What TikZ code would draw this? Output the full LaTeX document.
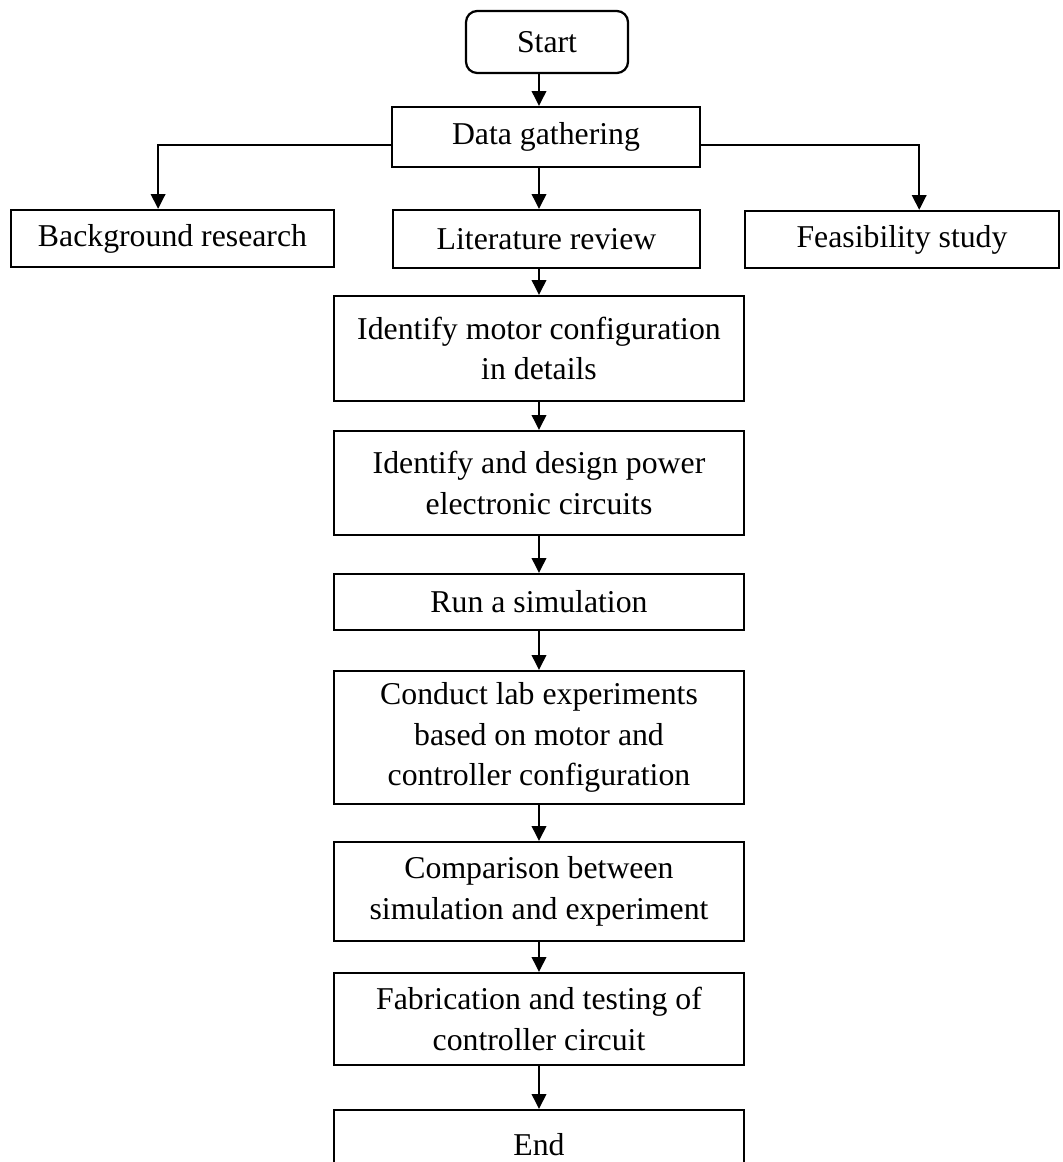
\documentclass[tikz,border=0pt]{standalone}
\usepackage{fontspec}
\setmainfont{Liberation Serif}
\usetikzlibrary{arrows.meta,positioning}
\newcommand{\flowfont}{\fontsize{22.6}{29}\selectfont}

\begin{document}
\begin{tikzpicture}[
      font=\flowfont,
      stage/.style={rectangle, draw, line width=1.6pt, align=center,
                    inner sep=0pt, minimum width=10.25cm},
      terminal/.style={stage, rounded corners=0.28cm},
      flow/.style={-{Triangle[length=0.37cm,width=0.36cm]}, line width=1.6pt},
    ]
    \useasboundingbox (0,0) rectangle (26.55,-29.05);
    \clip (0,0) rectangle (26.55,-29.05);
    \node[terminal, minimum width=4.05cm, minimum height=1.55cm] (start) at (13.675,-1.05) {Start};
    \node[stage, minimum width=7.7cm, minimum height=1.5cm] (gather) at (13.65,-3.425) {Data gathering};
    \node[stage, minimum width=8.075cm, minimum height=1.425cm] (backgr) at (4.3125,-5.9625) {Background research};
    \node[stage, minimum width=7.675cm, minimum height=1.45cm] (litrev) at (13.6625,-5.975) {Literature review};
    \node[stage, minimum width=7.85cm, minimum height=1.425cm] (feas) at (22.55,-5.9875) {Feasibility study};
    \node[stage, minimum height=2.625cm] (motor) at (13.475,-8.7125) {Identify motor configuration\\ in details};
    \node[stage, minimum height=2.6cm] (design) at (13.475,-12.075) {Identify and design power\\ electronic circuits};
    \node[stage, minimum height=1.4cm] (sim) at (13.475,-15.05) {Run a simulation};
    \node[stage, minimum height=3.325cm] (conduct) at (13.475,-18.4375) {Conduct lab experiments\\ based on motor and\\ controller configuration};
    \node[stage, minimum height=2.475cm] (compar) at (13.475,-22.2875) {Comparison between\\ simulation and experiment};
    \node[stage, minimum height=2.3cm] (fabric) at (13.475,-25.475) {Fabrication and testing of\\ controller circuit};
    \node[stage, minimum height=1.75cm] (end) at (13.475,-28.625) {End};
    \draw[flow] (start.south -| motor.north) -- (gather.north -| motor.north);
    \draw[flow] ([yshift=-0.2cm]gather.west) -| ([xshift=-0.36cm]backgr.north);
    \draw[flow] (gather.south -| motor.north) -- (litrev.north -| motor.north);
    \draw[flow] ([yshift=-0.2cm]gather.east) -| ([xshift=0.43cm]feas.north);
    \draw[flow] (litrev.south -| motor.north) -- (motor.north);
    \draw[flow] (motor) -- (design);
    \draw[flow] (design) -- (sim);
    \draw[flow] (sim) -- (conduct);
    \draw[flow] (conduct) -- (compar);
    \draw[flow] (compar) -- (fabric);
    \draw[flow] (fabric) -- (end);
  \end{tikzpicture}
\end{document}
